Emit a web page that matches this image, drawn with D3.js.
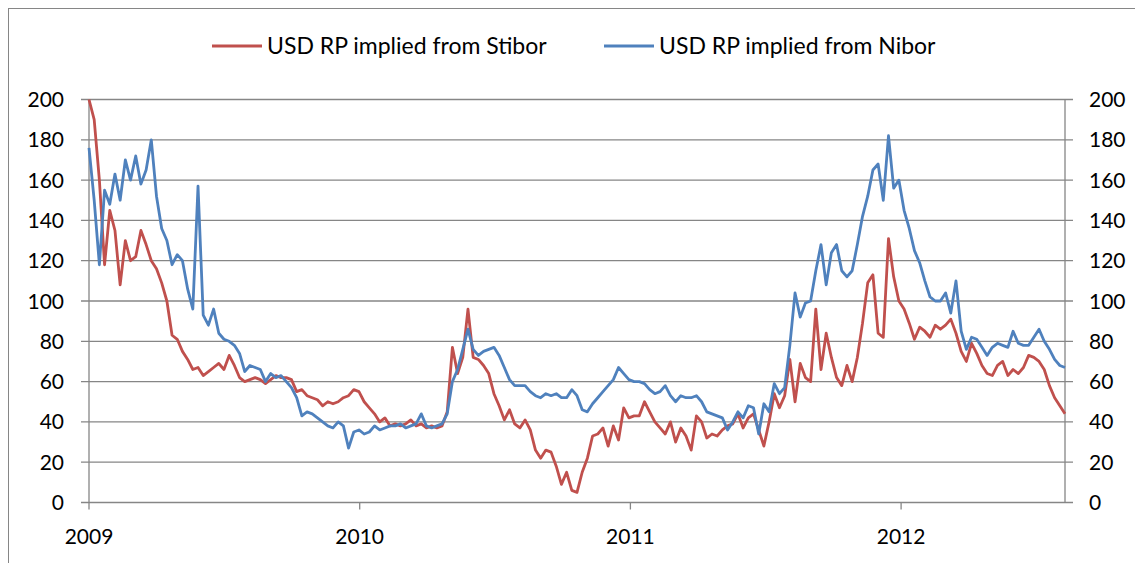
<!DOCTYPE html>
<html>
<head>
<meta charset="utf-8">
<script src="https://cdnjs.cloudflare.com/ajax/libs/d3/7.8.5/d3.min.js"></script>
<style>
  body { margin: 0; background: #fff; }
  svg text { font-family: Lato, "Open Sans", sans-serif; fill: #000; }
</style>
</head>
<body>
<svg id="chart" width="1135" height="563"></svg>
<script>
// weekly observations, first one on 2009-01-01
const startDate = "2009-01-01";
const stepDays = 7;

const seriesNames = ["USD RP implied from Stibor", "USD RP implied from Nibor"];
const seriesColors = ["#C0504D", "#4F81BD"];

const stibor = [
  200,190,160,118,145,135,108,130,120,122,
  135,128,120,116,109,100,83,81,75,71,
  66,67,63,65,67,69,66,73,68,62,
  60,61,62,61,59,61,63,62,62,61,
  55,56,53,52,51,48,50,49,50,52,
  53,56,55,50,47,44,40,42,38,39,
  38,39,41,38,39,37,38,37,38,45,
  77,64,72,96,72,71,68,64,54,48,
  41,46,39,37,41,36,26,22,26,25,
  18,9,15,6,5,15,22,33,34,37,
  28,38,31,47,42,43,43,50,45,40,
  37,34,40,30,37,33,26,43,40,32,
  34,33,36,38,39,44,37,42,44,36,
  28,40,54,47,53,71,50,69,62,60,
  96,66,84,72,62,58,68,60,72,89,
  109,113,84,82,131,112,100,96,89,81,
  87,85,82,88,86,88,91,84,75,70,
  79,74,68,64,63,68,70,63,66,64,
  67,73,72,70,66,58,52,48,44
];

const nibor = [
  176,150,118,155,148,163,150,170,160,172,
  158,165,180,152,136,130,118,123,120,106,
  96,157,93,88,96,84,81,80,78,74,
  65,68,67,66,60,64,62,63,60,57,
  52,43,45,44,42,40,38,37,40,38,
  27,35,36,34,35,38,36,37,38,38,
  39,37,38,39,44,38,37,38,39,44,
  60,66,76,86,76,73,75,76,77,73,
  67,61,58,58,58,55,53,52,54,53,
  54,52,52,56,53,46,45,49,52,55,
  58,61,67,64,61,60,60,59,56,54,
  55,58,53,50,53,52,52,53,50,45,
  44,43,42,36,40,45,42,48,47,34,
  49,45,59,54,57,78,104,92,99,100,
  115,128,108,124,128,115,112,115,128,142,
  152,165,168,150,182,156,160,145,136,125,
  119,110,102,100,100,104,94,110,85,76,
  82,81,77,73,77,79,78,77,85,79,
  78,78,82,86,80,76,71,68,67
];

const yTicks = [0, 20, 40, 60, 80, 100, 120, 140, 160, 180, 200];
const xTickDates = ["2009-01-01", "2010-01-01", "2011-01-01", "2012-01-01"];
const xTickLabels = ["2009", "2010", "2011", "2012"];

const svg = d3.select("#chart");
const W = 1135, H = 563;
const margin = { left: 89, right: 70, top: 99.5, bottom: 60.5 };
const plotW = W - margin.left - margin.right;
const plotH = H - margin.top - margin.bottom;
const grey = "#868686";

const parse = d3.timeParse("%Y-%m-%d");
const t0 = parse(startDate);
const toPoints = vals => vals.map((v, i) => ({ date: d3.timeDay.offset(t0, i * stepDays), v: v }));
const series = [toPoints(stibor), toPoints(nibor)];

const x = d3.scaleTime()
  .domain([t0, series[0][series[0].length - 1].date])
  .range([0, plotW]);
const y = d3.scaleLinear().domain([0, 200]).range([plotH, 0]);

// outer frame (runs off the right and bottom of the picture)
svg.append("rect")
  .attr("x", 8.5).attr("y", 8.5)
  .attr("width", 1140).attr("height", 570)
  .attr("fill", "none").attr("stroke", grey).attr("stroke-width", 1);

const g = svg.append("g").attr("transform", `translate(${margin.left},${margin.top})`);

// gridlines (they stick out as ticks on both sides)
g.append("g").selectAll("line")
  .data(yTicks)
  .enter().append("line")
  .attr("x1", -8).attr("x2", plotW + 8)
  .attr("y1", d => y(d)).attr("y2", d => y(d))
  .attr("stroke", grey).attr("stroke-width", 1.3);

// vertical axes
g.append("line").attr("x1", 0).attr("x2", 0).attr("y1", 0).attr("y2", plotH)
  .attr("stroke", grey).attr("stroke-width", 1.3);
g.append("line").attr("x1", plotW).attr("x2", plotW).attr("y1", 0).attr("y2", plotH)
  .attr("stroke", grey).attr("stroke-width", 1.3);

// left / right tick labels
g.append("g").selectAll("text")
  .data(yTicks)
  .enter().append("text")
  .attr("x", -25).attr("y", d => y(d))
  .attr("dy", "0.36em")
  .attr("text-anchor", "end")
  .style("font-size", "21px")
  .text(d => d);

g.append("g").selectAll("text")
  .data(yTicks)
  .enter().append("text")
  .attr("x", plotW + 24).attr("y", d => y(d))
  .attr("dy", "0.36em")
  .attr("text-anchor", "start")
  .style("font-size", "21px")
  .text(d => d);

// bottom axis
const xTicks = xTickDates.map(parse);
g.append("g").selectAll("line")
  .data(xTicks)
  .enter().append("line")
  .attr("x1", d => x(d)).attr("x2", d => x(d))
  .attr("y1", plotH).attr("y2", plotH + 7)
  .attr("stroke", grey).attr("stroke-width", 1.3);

g.append("g").selectAll("text")
  .data(xTicks)
  .enter().append("text")
  .attr("x", d => x(d)).attr("y", plotH + 34)
  .attr("dy", "0.36em")
  .attr("text-anchor", "middle")
  .style("font-size", "21px")
  .text((d, i) => xTickLabels[i]);

// series
const line = d3.line()
  .x(d => x(d.date))
  .y(d => y(d.v));

g.append("g").selectAll("path")
  .data(series)
  .enter().append("path")
  .attr("d", line)
  .attr("fill", "none")
  .attr("stroke", (d, i) => seriesColors[i])
  .attr("stroke-width", 2.8)
  .attr("stroke-linejoin", "round");

// legend
const legendX = [212, 604];
const leg = svg.append("g").selectAll("g")
  .data(seriesNames)
  .enter().append("g")
  .attr("transform", (d, i) => `translate(${legendX[i]},46)`);
leg.append("line")
  .attr("x1", 0).attr("x2", 50)
  .attr("stroke", (d, i) => seriesColors[i])
  .attr("stroke-width", 2.8);
leg.append("text")
  .attr("x", 55).attr("dy", "0.36em")
  .style("font-size", "23px")
  .text(d => d);
</script>
</body>
</html>
